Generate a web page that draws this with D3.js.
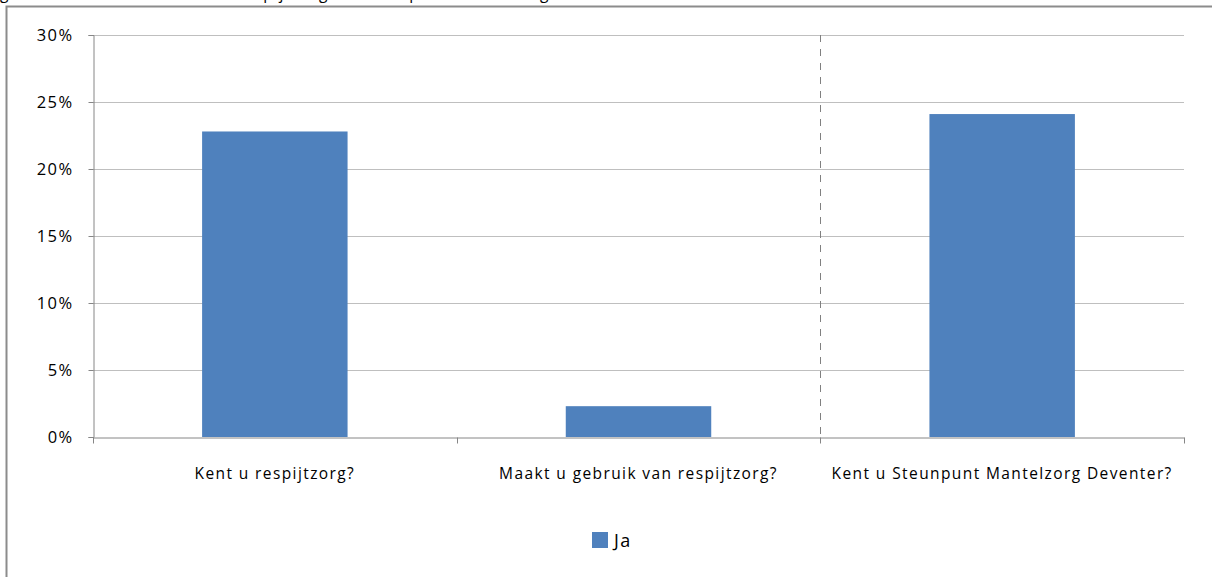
<!DOCTYPE html>
<html>
<head>
<meta charset="utf-8">
<script src="https://cdn.jsdelivr.net/npm/d3@7"></script>
<style>
  html, body { margin: 0; padding: 0; background: #fff; overflow: hidden; }
  svg { display: block; font-family: "Open Sans", Lato, sans-serif; }
  text { letter-spacing: 1.4px; }
</style>
</head>
<body>
<div id="chart"></div>
<script>
// chart data
const categories = ['Kent u respijtzorg?', 'Maakt u gebruik van respijtzorg?', 'Kent u Steunpunt Mantelzorg Deventer?'];
const jaValues = [0.228, 0.023, 0.241];
const yTicks = [0, 0.05, 0.10, 0.15, 0.20, 0.25, 0.30];
const seriesName = 'Ja';
const captionText = 'gebruik en bekendheid van respijtzorg en Steunpunt Mantelzorg';

const width = 1212, height = 577;
const margin = { top: 35, right: 28, bottom: 140, left: 93 };
const barColor = '#4f81bd';
const fontSize = 15.5;

const svg = d3.select('#chart').append('svg')
    .attr('width', width)
    .attr('height', height);

// caption cut off at the top of the picture (only the descenders show)
svg.append('text')
    .attr('x', 0)
    .attr('y', -1)
    .attr('font-size', fontSize)
    .attr('fill', '#000')
    .text(captionText);

// outer chart border
svg.append('rect')
    .attr('x', 6.5).attr('y', 6.5)
    .attr('width', width + 10).attr('height', height + 10)
    .attr('fill', '#fff')
    .attr('stroke', '#8c8c8c')
    .attr('stroke-width', 2);

const x = d3.scaleBand()
    .domain(categories)
    .range([margin.left, width - margin.right])
    .paddingInner(0)
    .paddingOuter(0);

const y = d3.scaleLinear()
    .domain([0, 0.30])
    .range([height - margin.bottom, margin.top]);

// gridlines
svg.append('g')
    .selectAll('line')
    .data(yTicks.filter(d => d > 0))
    .join('line')
    .attr('x1', margin.left)
    .attr('x2', width - margin.right)
    .attr('y1', d => Math.round(y(d)) + 0.5)
    .attr('y2', d => Math.round(y(d)) + 0.5)
    .attr('stroke', '#bfbfbf')
    .attr('stroke-width', 1);

// dashed separator between the 2nd and 3rd question
svg.append('line')
    .attr('x1', Math.round(x(categories[2])) + 0.5)
    .attr('x2', Math.round(x(categories[2])) + 0.5)
    .attr('y1', y(0.30))
    .attr('y2', y(0))
    .attr('stroke', '#808080')
    .attr('stroke-width', 1)
    .attr('stroke-dasharray', '7,7');

// bars (bar width is 40% of the category)
const barW = x.bandwidth() * 0.4;
svg.append('g')
    .selectAll('rect')
    .data(jaValues)
    .join('rect')
    .attr('x', (d, i) => x(categories[i]) + (x.bandwidth() - barW) / 2)
    .attr('y', d => y(d))
    .attr('width', barW)
    .attr('height', d => y(0) - y(d))
    .attr('fill', barColor);

// y axis
const yAxis = svg.append('g')
    .attr('transform', `translate(${margin.left + 0.5},0)`)
    .call(d3.axisLeft(y).tickValues(yTicks).tickFormat(d3.format('.0%')).tickSize(5).tickPadding(15))
    .attr('font-family', null)
    .attr('font-size', null);
yAxis.select('.domain').attr('stroke', '#868686');
yAxis.selectAll('.tick line').attr('stroke', '#868686');
yAxis.selectAll('.tick text').attr('font-size', 16.5).attr('fill', '#000');

// x axis
const xAxis = svg.append('g')
    .attr('transform', `translate(0,${Math.round(y(0)) + 0.5})`)
    .call(d3.axisBottom(x).tickSize(0).tickPadding(30))
    .attr('font-family', null)
    .attr('font-size', null);
xAxis.select('.domain').attr('stroke', '#868686');
xAxis.selectAll('.tick text').attr('font-size', fontSize).attr('fill', '#000');

// category boundary ticks
const bounds = categories.map(c => x(c)).concat([x(categories[categories.length - 1]) + x.bandwidth()]);
xAxis.append('g')
    .selectAll('line')
    .data(bounds)
    .join('line')
    .attr('x1', d => Math.round(d) + 0.5)
    .attr('x2', d => Math.round(d) + 0.5)
    .attr('y1', 0)
    .attr('y2', 6)
    .attr('stroke', '#868686');

// legend
const legend = svg.append('g').attr('transform', 'translate(592,532)');
legend.append('rect')
    .attr('width', 16).attr('height', 16)
    .attr('fill', barColor);
legend.append('text')
    .attr('x', 22).attr('y', 15)
    .attr('font-size', 18)
    .attr('fill', '#000')
    .text(seriesName);
</script>
</body>
</html>
